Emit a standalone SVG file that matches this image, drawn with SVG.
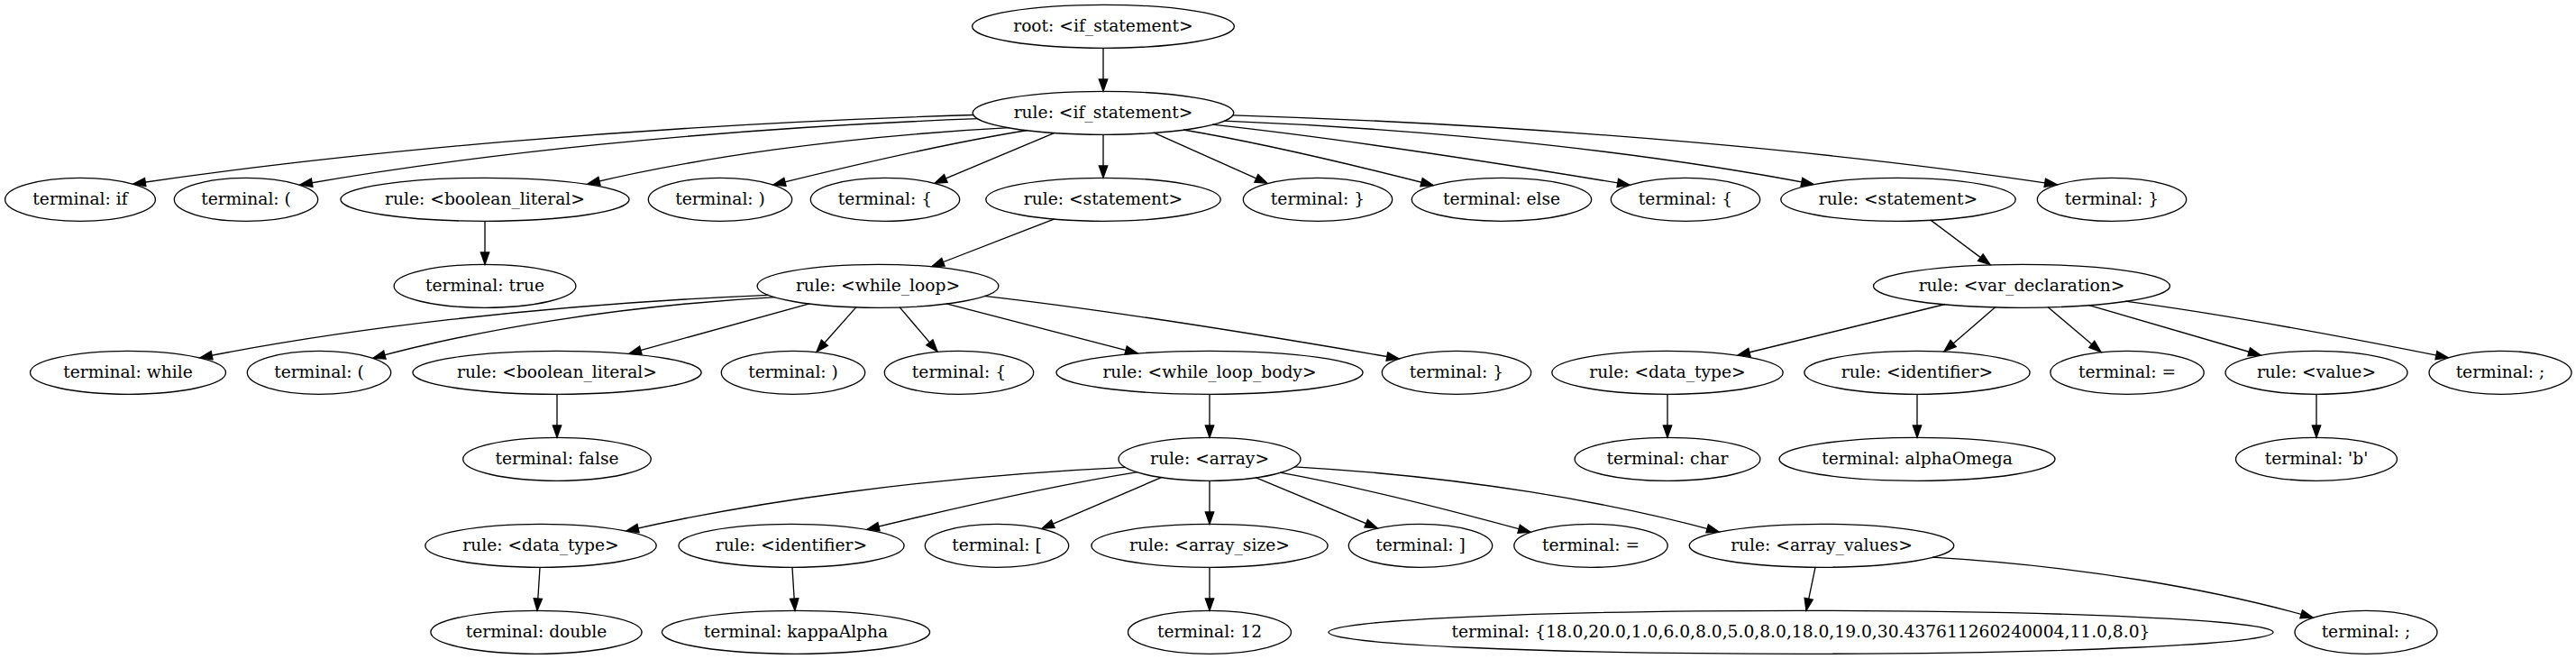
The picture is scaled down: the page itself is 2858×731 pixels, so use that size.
<svg xmlns="http://www.w3.org/2000/svg" width="2858" height="731" viewBox="0 0 2858 731">
<style>
.n ellipse{fill:none;stroke:#000;stroke-width:1.33}
.n text{font-family:"DejaVu Serif","Liberation Serif",serif;font-size:18.67px;text-anchor:middle;fill:#000}
#edges path{fill:none;stroke:#000;stroke-width:1.33;marker-end:url(#ah)}
</style>
<defs>
<marker id="ah" markerUnits="userSpaceOnUse" markerWidth="20" markerHeight="14" viewBox="-1 -7 16 14" refX="13.33" refY="0" orient="auto" overflow="visible">
<path d="M0,-4.67 L13.33,0 L0,4.67 Z" fill="#000" stroke="#000" stroke-width="1.33"/>
</marker>
</defs>
<rect width="2858" height="731" fill="#fff"/>
<g id="edges">
<path d="M1224,53.3 L1224,101.3"/>
<path d="M1080,127.5 C707,139 381,169.6 148,204"/>
<path d="M1085,131.7 C784,142.7 521,172 333,205"/>
<path d="M1120,141.7 C933,151.3 769,176 652,204"/>
<path d="M1140,144.5 C1047,159.6 951,182 858,205"/>
<path d="M1170,147.3 L1037,203.1"/>
<path d="M1224,149.3 L1224,197.3"/>
<path d="M1280,147.1 L1406,203.3"/>
<path d="M1313,144 C1404.4,159.4 1498.6,182.1 1590,205.5"/>
<path d="M1345,138.2 C1497.8,154.9 1655.2,179.7 1808,205.1"/>
<path d="M1358,134.2 C1620,144.7 1848,172.8 2012,204.4"/>
<path d="M1368,127.8 C1734,139.4 2053,170.2 2282,204.8"/>
<path d="M538,245.3 L538,293.3"/>
<path d="M1170,242.8 L1034,295.5"/>
<path d="M2142,244.1 L2208,293.6"/>
<path d="M853,327.3 C600.6,337.7 379.8,365.5 222,396.8"/>
<path d="M860,329.6 C681.6,339.7 525.5,366.8 414,397.2"/>
<path d="M898,336.8 L698,392.2"/>
<path d="M950,340.6 L906,390.3"/>
<path d="M998,340.6 L1040,390"/>
<path d="M1050,336.8 L1262,391.8"/>
<path d="M1092,328.3 C1243.8,345.7 1400.2,371.4 1552,397.8"/>
<path d="M2158,337.5 L1928,394"/>
<path d="M2214,340.6 L2157,389.7"/>
<path d="M2272,340.6 L2331,390.4"/>
<path d="M2317,338.4 L2508,394"/>
<path d="M2358,334.2 C2476.1,349.8 2597.9,373 2716,396.7"/>
<path d="M618,437.3 L618,485.3"/>
<path d="M1342,437.3 L1342,485.3"/>
<path d="M1850,437.3 L1850,485.3"/>
<path d="M2127,437.3 L2127,485.3"/>
<path d="M2570,437.3 L2570,485.3"/>
<path d="M1249,518.4 C1027.4,529 833.5,557.2 695,588.9"/>
<path d="M1262,523.6 C1163,539.5 1061,563 962,587.2"/>
<path d="M1289,529.4 L1156,586.3"/>
<path d="M1342,533.3 L1342,581.3"/>
<path d="M1393,529.7 L1528,585.8"/>
<path d="M1420,524.2 C1511.7,540.7 1606.3,565.1 1698,590.2"/>
<path d="M1436,517.8 C1624.4,528.6 1789,557.4 1907,589.9"/>
<path d="M599,629.3 L596,677.3"/>
<path d="M879,629.3 L882,677.3"/>
<path d="M1342,629.3 L1342,677.3"/>
<path d="M2014,629.3 L2004,677.3"/>
<path d="M2144,618.1 C2312.8,628.1 2460.5,654.9 2566,685"/>
</g>
<g id="n0" class="n"><ellipse cx="1224" cy="29.3" rx="145.4" ry="24"/><text x="1224" y="34.9">root: &lt;if_statement&gt;</text></g>
<g id="n1" class="n"><ellipse cx="1224" cy="125.3" rx="144.8" ry="24"/><text x="1224" y="130.9">rule: &lt;if_statement&gt;</text></g>
<g id="n2" class="n"><ellipse cx="89" cy="221.3" rx="83.4" ry="24"/><text x="89" y="226.9">terminal: if</text></g>
<g id="n3" class="n"><ellipse cx="273" cy="221.3" rx="79.7" ry="24"/><text x="273" y="226.9">terminal: (</text></g>
<g id="n4" class="n"><ellipse cx="538" cy="221.3" rx="160.1" ry="24"/><text x="538" y="226.9">rule: &lt;boolean_literal&gt;</text></g>
<g id="n5" class="n"><ellipse cx="799" cy="221.3" rx="79.7" ry="24"/><text x="799" y="226.9">terminal: )</text></g>
<g id="n6" class="n"><ellipse cx="982" cy="221.3" rx="82.7" ry="24"/><text x="982" y="226.9">terminal: {</text></g>
<g id="n7" class="n"><ellipse cx="1224" cy="221.3" rx="130.2" ry="24"/><text x="1224" y="226.9">rule: &lt;statement&gt;</text></g>
<g id="n8" class="n"><ellipse cx="1462" cy="221.3" rx="82.7" ry="24"/><text x="1462" y="226.9">terminal: }</text></g>
<g id="n9" class="n"><ellipse cx="1666" cy="221.3" rx="99.7" ry="24"/><text x="1666" y="226.9">terminal: else</text></g>
<g id="n10" class="n"><ellipse cx="1870" cy="221.3" rx="82.7" ry="24"/><text x="1870" y="226.9">terminal: {</text></g>
<g id="n11" class="n"><ellipse cx="2106" cy="221.3" rx="130.2" ry="24"/><text x="2106" y="226.9">rule: &lt;statement&gt;</text></g>
<g id="n12" class="n"><ellipse cx="2343" cy="221.3" rx="82.7" ry="24"/><text x="2343" y="226.9">terminal: }</text></g>
<g id="n13" class="n"><ellipse cx="538" cy="317.3" rx="100.9" ry="24"/><text x="538" y="322.9">terminal: true</text></g>
<g id="n14" class="n"><ellipse cx="974" cy="317.3" rx="133.9" ry="24"/><text x="974" y="322.9">rule: &lt;while_loop&gt;</text></g>
<g id="n15" class="n"><ellipse cx="2243" cy="317.3" rx="164.5" ry="24"/><text x="2243" y="322.9">rule: &lt;var_declaration&gt;</text></g>
<g id="n16" class="n"><ellipse cx="142" cy="413.3" rx="108.5" ry="24"/><text x="142" y="418.9">terminal: while</text></g>
<g id="n17" class="n"><ellipse cx="354" cy="413.3" rx="79.7" ry="24"/><text x="354" y="418.9">terminal: (</text></g>
<g id="n18" class="n"><ellipse cx="618" cy="413.3" rx="160.1" ry="24"/><text x="618" y="418.9">rule: &lt;boolean_literal&gt;</text></g>
<g id="n19" class="n"><ellipse cx="880" cy="413.3" rx="79.7" ry="24"/><text x="880" y="418.9">terminal: )</text></g>
<g id="n20" class="n"><ellipse cx="1064" cy="413.3" rx="82.7" ry="24"/><text x="1064" y="418.9">terminal: {</text></g>
<g id="n21" class="n"><ellipse cx="1342" cy="413.3" rx="170.1" ry="24"/><text x="1342" y="418.9">rule: &lt;while_loop_body&gt;</text></g>
<g id="n22" class="n"><ellipse cx="1616" cy="413.3" rx="82.7" ry="24"/><text x="1616" y="418.9">terminal: }</text></g>
<g id="n23" class="n"><ellipse cx="1850" cy="413.3" rx="128.2" ry="24"/><text x="1850" y="418.9">rule: &lt;data_type&gt;</text></g>
<g id="n24" class="n"><ellipse cx="2127" cy="413.3" rx="125.1" ry="24"/><text x="2127" y="418.9">rule: &lt;identifier&gt;</text></g>
<g id="n25" class="n"><ellipse cx="2360" cy="413.3" rx="85.2" ry="24"/><text x="2360" y="418.9">terminal: =</text></g>
<g id="n26" class="n"><ellipse cx="2570" cy="413.3" rx="101" ry="24"/><text x="2570" y="418.9">rule: &lt;value&gt;</text></g>
<g id="n27" class="n"><ellipse cx="2774" cy="413.3" rx="79" ry="24"/><text x="2774" y="418.9">terminal: ;</text></g>
<g id="n28" class="n"><ellipse cx="618" cy="509.3" rx="104.3" ry="24"/><text x="618" y="514.9">terminal: false</text></g>
<g id="n29" class="n"><ellipse cx="1342" cy="509.3" rx="101" ry="24"/><text x="1342" y="514.9">rule: &lt;array&gt;</text></g>
<g id="n30" class="n"><ellipse cx="1850" cy="509.3" rx="102.9" ry="24"/><text x="1850" y="514.9">terminal: char</text></g>
<g id="n31" class="n"><ellipse cx="2127" cy="509.3" rx="153" ry="24"/><text x="2127" y="514.9">terminal: alphaOmega</text></g>
<g id="n32" class="n"><ellipse cx="2570" cy="509.3" rx="89.5" ry="24"/><text x="2570" y="514.9">terminal: 'b'</text></g>
<g id="n33" class="n"><ellipse cx="600" cy="605.3" rx="128.2" ry="24"/><text x="600" y="610.9">rule: &lt;data_type&gt;</text></g>
<g id="n34" class="n"><ellipse cx="878" cy="605.3" rx="125.1" ry="24"/><text x="878" y="610.9">rule: &lt;identifier&gt;</text></g>
<g id="n35" class="n"><ellipse cx="1106" cy="605.3" rx="79.7" ry="24"/><text x="1106" y="610.9">terminal: [</text></g>
<g id="n36" class="n"><ellipse cx="1342" cy="605.3" rx="131.1" ry="24"/><text x="1342" y="610.9">rule: &lt;array_size&gt;</text></g>
<g id="n37" class="n"><ellipse cx="1576" cy="605.3" rx="79.7" ry="24"/><text x="1576" y="610.9">terminal: ]</text></g>
<g id="n38" class="n"><ellipse cx="1765" cy="605.3" rx="85.2" ry="24"/><text x="1765" y="610.9">terminal: =</text></g>
<g id="n39" class="n"><ellipse cx="2021" cy="605.3" rx="146.8" ry="24"/><text x="2021" y="610.9">rule: &lt;array_values&gt;</text></g>
<g id="n40" class="n"><ellipse cx="595" cy="701.3" rx="117.1" ry="24"/><text x="595" y="706.9">terminal: double</text></g>
<g id="n41" class="n"><ellipse cx="883" cy="701.3" rx="148.6" ry="24"/><text x="883" y="706.9">terminal: kappaAlpha</text></g>
<g id="n42" class="n"><ellipse cx="1342" cy="701.3" rx="90.5" ry="24"/><text x="1342" y="706.9">terminal: 12</text></g>
<g id="n43" class="n"><ellipse cx="1998" cy="701.3" rx="524.1" ry="24"/><text x="1998" y="706.9">terminal: {18.0,20.0,1.0,6.0,8.0,5.0,8.0,18.0,19.0,30.437611260240004,11.0,8.0}</text></g>
<g id="n44" class="n"><ellipse cx="2625" cy="701.3" rx="79" ry="24"/><text x="2625" y="706.9">terminal: ;</text></g>
</svg>
